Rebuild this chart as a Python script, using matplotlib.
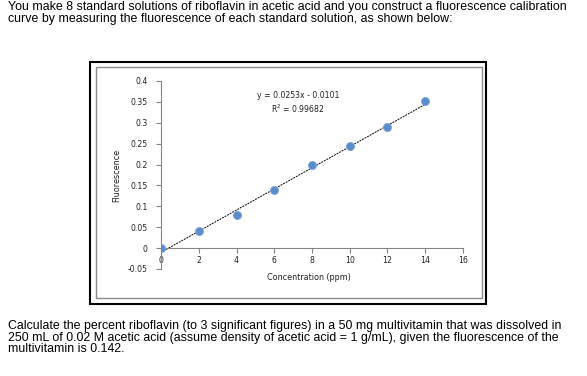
import numpy as np
import matplotlib.pyplot as plt
from matplotlib.patches import Rectangle

# calibration data
conc = [0, 2, 4, 6, 8, 10, 12, 14]
fluor = [0.0, 0.042, 0.080, 0.138, 0.200, 0.245, 0.290, 0.352]
slope, intercept = 0.0253, -0.0101
x_ticks = [0, 2, 4, 6, 8, 10, 12, 14, 16]
y_ticks = [-0.05, 0, 0.05, 0.1, 0.15, 0.2, 0.25, 0.3, 0.35, 0.4]
y_labels = ["-0.05", "0", "0.05", "0.1", "0.15", "0.2", "0.25", "0.3", "0.35", "0.4"]

intro = ("You make 8 standard solutions of riboflavin in acetic acid and you construct a fluorescence calibration\n"
         "curve by measuring the fluorescence of each standard solution, as shown below:")
question = ("Calculate the percent riboflavin (to 3 significant figures) in a 50 mg multivitamin that was dissolved in\n"
            "250 mL of 0.02 M acetic acid (assume density of acetic acid = 1 g/mL), given the fluorescence of the\n"
            "multivitamin is 0.142.")

W, H = 587, 376
fig = plt.figure(figsize=(W / 100, H / 100), dpi=100)
fig.patch.set_facecolor("white")

def px(x, y):
    return x / W, 1 - y / H

# chart frames (outer black, inner grey)
fig.patches.append(Rectangle(px(90, 304), 396 / W, 242 / H, transform=fig.transFigure,
                             fill=False, edgecolor="black", linewidth=1.5))
fig.patches.append(Rectangle(px(96, 298), 386 / W, 231 / H, transform=fig.transFigure,
                             fill=False, edgecolor="#8c8c8c", linewidth=1.0))

tfont = dict(family=["Liberation Sans", "DejaVu Sans"], fontsize=8.95, color="black")
fig.text(8 / W, 1 - 1 / H, intro, va="top", ha="left", linespacing=0.96, **tfont)
fig.text(8 / W, 1 - 320 / H, question, va="top", ha="left", linespacing=0.97, **tfont)

ax = fig.add_axes([161 / W, 1 - 269 / H, (463 - 161) / W, (269 - 81) / H])
ax.set_xlim(0, 16)
ax.set_ylim(-0.05, 0.4)

for s in ["top", "right"]:
    ax.spines[s].set_visible(False)
ax.spines["bottom"].set_position(("data", 0))
for s in ["left", "bottom"]:
    ax.spines[s].set_color("#868686")
    ax.spines[s].set_linewidth(0.8)

ax.set_xticks(x_ticks)
ax.set_xticklabels([str(t) for t in x_ticks])
ax.set_yticks(y_ticks)
ax.set_yticklabels(y_labels)
ax.tick_params(axis="both", color="#868686", length=3.5, width=0.8,
               labelsize=5.6, labelcolor="#222222")
ax.tick_params(axis="x", pad=2)
ax.tick_params(axis="y", pad=6)

xf = np.array([conc[0], conc[-1]])
ax.plot(xf, slope * xf + intercept, color="black", linestyle=(0, (2, 1)), linewidth=0.7, zorder=2)
ax.plot(conc, fluor, linestyle="none", marker="o", markersize=5.8,
        markerfacecolor="#5a8bcb", markeredgecolor="#7aa6dc", markeredgewidth=0.6, zorder=3)

ax.text(0.455, 0.885, "y = 0.0253x - 0.0101\nR$^2$ = 0.99682", transform=ax.transAxes,
        ha="center", va="center", fontsize=5.6, linespacing=1.25, color="#222222")
ax.set_xlabel("Concentration (ppm)", fontsize=5.8, labelpad=2, color="#222222")
ax.xaxis.set_label_coords(0.49, -0.02)
ax.set_ylabel("Fluorescence", fontsize=5.8, color="#222222")
ax.yaxis.set_label_coords(-0.13, 0.5)

fig.savefig("out.png", dpi=100)
